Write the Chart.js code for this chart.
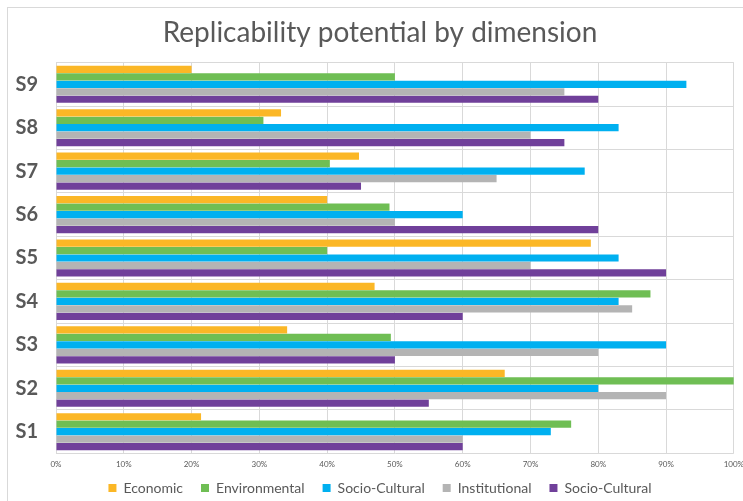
<!DOCTYPE html>
<html>
<head>
<meta charset="utf-8">
<script src="https://cdn.jsdelivr.net/npm/chart.js@4"></script>
<style>
  html, body { margin: 0; padding: 0; background: #fff; overflow: hidden; }
  #wrap {
    position: absolute; left: 7px; top: 7px; width: 744px; height: 511px;
    border: 1px solid #d9d9d9; box-sizing: border-box;
  }
  canvas { display: block; }
</style>
</head>
<body>
<div id="wrap"><canvas id="chart"></canvas></div>
<script>
  // categories, bottom to top as in the picture
  const categories = ["S1", "S2", "S3", "S4", "S5", "S6", "S7", "S8", "S9"];
  const seriesNames = ["Economic", "Environmental", "Socio-Cultural", "Institutional", "Socio-Cultural"];
  const seriesColors = ["#fbb726", "#6fbe54", "#00b0f0", "#b4b4b4", "#70409a"];

  const economic      = [21.4, 66.2, 34.1, 47, 78.9, 40, 44.7, 33.2, 20];
  const environmental = [76, 100, 49.4, 87.7, 40, 49.2, 40.4, 30.6, 50];
  const socioCultural = [73, 80, 90, 83, 83, 60, 78, 83, 93];
  const institutional = [60, 90, 80, 85, 70, 50, 65, 70, 75];
  const socioCultural2 = [60, 55, 50, 60, 90, 80, 45, 75, 80];

  const xTicks = [0, 10, 20, 30, 40, 50, 60, 70, 80, 90, 100];

  const seriesData = [economic, environmental, socioCultural, institutional, socioCultural2];
  const fontFamily = "Lato, 'Open Sans', sans-serif";
  const textColor = "#595959";

  const datasets = seriesNames.map((name, i) => ({
    label: name,
    data: seriesData[i],
    backgroundColor: seriesColors[i],
    borderWidth: 0,
    categoryPercentage: 0.86,
    barPercentage: 0.97,
  }));

  // pull the legend up closer to the axis (wide item spacing, small gap above)
  const legendShift = {
    id: "legendShift",
    afterLayout(chart) {
      const lg = chart.legend;
      if (!lg) return;
      lg.top -= 12;
      lg.bottom -= 12;
    },
  };

  const ctx = document.getElementById("chart").getContext("2d");
  new Chart(ctx, {
    type: "bar",
    data: { labels: categories, datasets: datasets },
    plugins: [legendShift],
    options: {
      indexAxis: "y",
      responsive: true,
      maintainAspectRatio: false,
      animation: false,
      layout: { padding: { left: 2, right: 0, top: 0, bottom: 0 } },
      plugins: {
        title: {
          display: true,
          text: "Replicability potential by dimension",
          color: textColor,
          font: { family: fontFamily, size: 28, weight: "normal" },
          padding: { top: 8, bottom: 13 },
        },
        legend: {
          position: "bottom",
          labels: {
            color: textColor,
            font: { family: fontFamily, size: 14 },
            boxWidth: 8,
            boxHeight: 8,
            padding: 18,
          },
        },
        tooltip: { enabled: false },
      },
      scales: {
        x: {
          min: 0,
          max: 100,
          afterBuildTicks: (axis) => {
            axis.ticks = xTicks.map((v) => ({ value: v }));
          },
          ticks: {
            color: textColor,
            font: { family: fontFamily, size: 8 },
            callback: (v) => v + "%",
            padding: 6,
            maxRotation: 0,
          },
          grid: { color: "#d9d9d9", drawTicks: false },
          border: { display: false },
        },
        y: {
          reverse: true,
          ticks: {
            color: textColor,
            font: { family: fontFamily, size: 20, weight: "bold" },
            padding: 18,
          },
          grid: { color: "#d9d9d9", drawTicks: false },
          border: { color: "#d9d9d9" },
          afterFit: (axis) => { axis.width = 46; },
        },
      },
    },
  });
</script>
</body>
</html>
